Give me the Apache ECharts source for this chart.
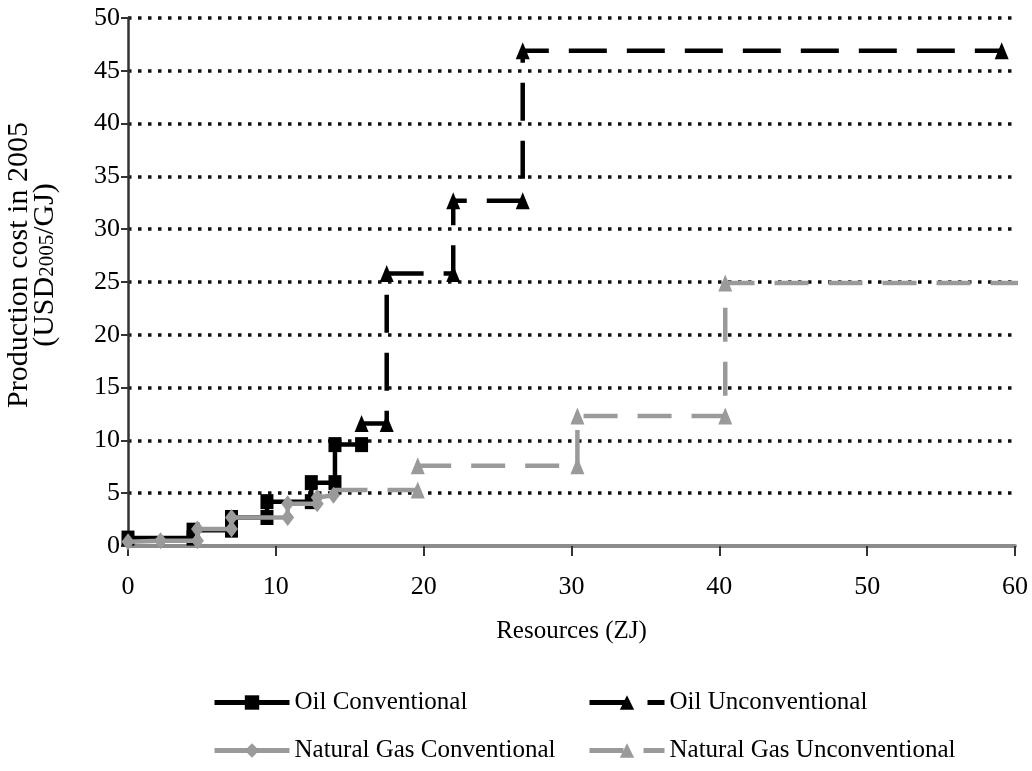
<!DOCTYPE html>
<html>
<head>
<meta charset="utf-8">
<script src="https://cdn.jsdelivr.net/npm/echarts@6/dist/echarts.min.js"></script>
<style>
html,body{margin:0;padding:0;background:#fff;}
#chart{width:1032px;height:771px;}
</style>
</head>
<body>
<div id="chart"></div>
<script>
// ---- data ----
const seriesNames = ['Oil Conventional', 'Oil Unconventional', 'Natural Gas Conventional', 'Natural Gas Unconventional'];

const oilConvX = [0, 4.4, 4.4, 7.0, 7.0, 9.4, 9.4, 12.4, 12.4, 14.0, 14.0, 15.8];
const oilConvY = [0.75, 0.75, 1.5, 1.5, 2.7, 2.7, 4.2, 4.2, 6.0, 6.0, 9.6, 9.6];

const oilUnconvX = [15.8, 17.5, 17.5, 22.0, 22.0, 26.7, 26.7, 59.1];
const oilUnconvY = [11.6, 11.6, 25.8, 25.8, 32.7, 32.7, 46.9, 46.9];

const gasConvX = [0, 2.2, 4.7, 4.7, 7.0, 7.0, 10.8, 10.8, 12.8, 12.8, 13.9];
const gasConvY = [0.4, 0.5, 0.5, 1.6, 1.6, 2.7, 2.7, 4.0, 4.0, 4.6, 4.8];

const gasUnconvX = [13.9, 19.6, 19.6, 30.4, 30.4, 40.4, 40.4, 60.6];
const gasUnconvY = [5.3, 5.3, 7.6, 7.6, 12.3, 12.3, 24.9, 24.9];

const xTicks = [0, 10, 20, 30, 40, 50, 60];
const yTicks = [0, 5, 10, 15, 20, 25, 30, 35, 40, 45, 50];

// ---- build chart ----
const FONT = '"Liberation Serif", "Times New Roman", serif';
const BLACK = '#000000';
const GRAY = '#9a9a9a';

function pairs(xs, ys) { return xs.map((x, i) => [x, ys[i]]); }
function hideEnds(arr, first, last) {
  return arr.map((p, i) => {
    if ((first && i === 0) || (last && i === arr.length - 1)) return { value: p, symbol: 'none' };
    return p;
  });
}

const chart = echarts.init(document.getElementById('chart'), null, { renderer: 'canvas' });

function legendAt(name, left, top) {
  return {
    data: [name], left: left, top: top, orient: 'horizontal',
    itemWidth: 75, itemHeight: 18, selectedMode: false,
    lineStyle: { width: 5 },
    textStyle: { fontFamily: FONT, fontSize: 25, color: '#000' }
  };
}

const option = {
  animation: false,
  backgroundColor: '#fff',
  grid: { left: 128, right: 17, top: 18, bottom: 225, containLabel: false, outerBoundsMode: 'none' },
  legend: [
    legendAt(seriesNames[0], 207, 685),
    legendAt(seriesNames[1], 582, 685),
    legendAt(seriesNames[2], 207, 733),
    legendAt(seriesNames[3], 582, 733)
  ],
  xAxis: {
    type: 'value', min: 0, max: 60, interval: 10,
    name: 'Resources (ZJ)', nameLocation: 'middle', nameGap: 73,
    nameTextStyle: { fontFamily: FONT, fontSize: 25, color: '#000' },
    axisLine: { show: true, onZero: false, lineStyle: { color: '#8c8c8c', width: 4 } },
    axisTick: { show: true, inside: false, length: 10, lineStyle: { color: '#333', width: 2 } },
    axisLabel: { fontFamily: FONT, fontSize: 26, color: '#000', margin: 28,
      formatter: v => xTicks.includes(v) ? String(v) : '' },
    splitLine: { show: false }
  },
  yAxis: {
    type: 'value', min: 0, max: 50, interval: 5,
    name: '{a|Production cost in 2005}\n{a|(USD}{s|2005}{a|/GJ)}',
    nameLocation: 'middle', nameRotate: 90, nameGap: 70,
    nameTextStyle: {
      fontFamily: FONT, fontSize: 30, color: '#000', lineHeight: 26,
      padding: [0, 0, 0, 34],
      rich: {
        a: { fontFamily: FONT, fontSize: 30, color: '#000', lineHeight: 26 },
        s: { fontFamily: FONT, fontSize: 21, color: '#000', lineHeight: 26, verticalAlign: 'bottom' }
      }
    },
    axisLine: { show: true, lineStyle: { color: '#333', width: 2.5 } },
    axisTick: { show: true, inside: false, length: 7, lineStyle: { color: '#333', width: 2 } },
    axisLabel: { fontFamily: FONT, fontSize: 26, color: '#000', margin: 8,
      formatter: v => yTicks.includes(v) ? String(v) : '' },
    splitLine: { show: true, lineStyle: { color: '#111', width: 3.5, type: [3.5, 6.5] } }
  },
  series: [
    {
      name: seriesNames[0], type: 'line', data: pairs(oilConvX, oilConvY),
      symbol: 'rect', symbolSize: [13, 15], showAllSymbol: true,
      lineStyle: { color: BLACK, width: 4.5, type: 'solid' },
      itemStyle: { color: BLACK, borderWidth: 0 }, z: 3
    },
    {
      name: seriesNames[1], type: 'line', data: pairs(oilUnconvX, oilUnconvY),
      symbol: 'triangle', symbolSize: [14, 17], showAllSymbol: true,
      lineStyle: { color: BLACK, width: 4.5, type: [38, 20] },
      itemStyle: { color: BLACK, borderWidth: 0 }, z: 3
    },
    {
      name: seriesNames[2], type: 'line', data: pairs(gasConvX, gasConvY),
      symbol: 'diamond', symbolSize: [13, 17], showAllSymbol: true,
      lineStyle: { color: GRAY, width: 4.5, type: 'solid' },
      itemStyle: { color: GRAY, borderWidth: 0 }, z: 4
    },
    {
      name: seriesNames[3], type: 'line', data: hideEnds(pairs(gasUnconvX, gasUnconvY), true, true),
      symbol: 'triangle', symbolSize: [14, 17], showAllSymbol: true, clip: false,
      lineStyle: { color: GRAY, width: 4.5, type: [34, 20] },
      itemStyle: { color: GRAY, borderWidth: 0 }, z: 4
    }
  ]
};
chart.setOption(option);
</script>
</body>
</html>
